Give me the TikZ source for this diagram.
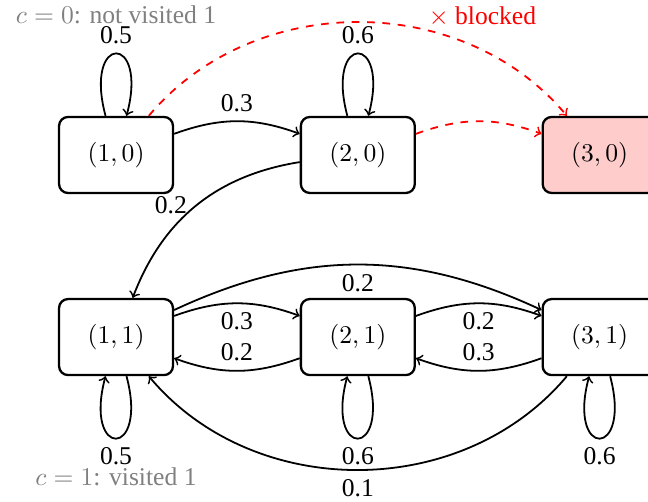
\documentclass[tikz,border=0pt]{standalone}
\usepackage[no-math]{fontspec}
\setmainfont{Liberation Serif}
\tikzset{
  state/.style = {draw, line width = 0.9pt, rounded corners = 3.5pt, minimum width = 44.5pt, minimum height = 29.7pt},
  trans/.style = {->, line width = 0.7pt},
  blockedtrans/.style = {->, line width = 0.7pt, red, dashed},
  every loop/.style = {looseness = 10.5},
  caption/.style = {text = gray}
}
\begin{document}
\begin{tikzpicture}
\pgfmathsetmacro\dx{3.32};
\pgfmathsetmacro\dy{2.5};
\useasboundingbox (-1.593,2.128) rectangle (7.304,-4.764);
\foreach \i/\c in {1/0,2/0,1/1,2/1,3/1} \node[state] (n\i\c) at ({(\i-1)*\dx},{-\c*\dy}) {$(\i,\c)$};
\node[state, fill = red!20] (n30) at ({2*\dx},0) {$(3,0)$};
\node[caption] (cap0) at (0,1.922) {$c=0$: not visited 1};
\node[caption] (cap1) at (0,-4.42) {$c=1$: visited 1};
\draw[trans] (n10) to[loop above] node[above] {0.5} (n10);
\draw[trans] (n20) to[loop above] node[above] {0.6} (n20);
\draw[trans] (n10) to[bend left = 20] node[above] {0.3} (n20);
\draw[trans] (n20) to[bend right = 30] node[left] {0.2} (n11);
\draw[blockedtrans] (n10) to[bend left = 50] node[pos = 0.645, above right, inner sep = 1pt] {$\times$ blocked} (n30);
\draw[blockedtrans] (n20) to[bend left = 20] (n30);
\draw[trans] (n11) to[loop below] node[below] {0.5} (n11);
\draw[trans] (n21) to[loop below] node[below] {0.6} (n21);
\draw[trans] (n31) to[loop below] node[below] {0.6} (n31);
\draw[trans] (n11) to[bend left = 20] node[below] {0.3} (n21);
\draw[trans] (n21) to[bend left = 20] node[above] {0.2} (n11);
\draw[trans] (n21) to[bend left = 20] node[below] {0.2} (n31);
\draw[trans] (n31) to[bend left = 20] node[above] {0.3} (n21);
\draw[trans] (n11) to[bend left = 25] node[below] {0.2} (n31);
\draw[trans] (n31) to[bend left = 50] node[below] {0.1} (n11);
\end{tikzpicture}
\end{document}
